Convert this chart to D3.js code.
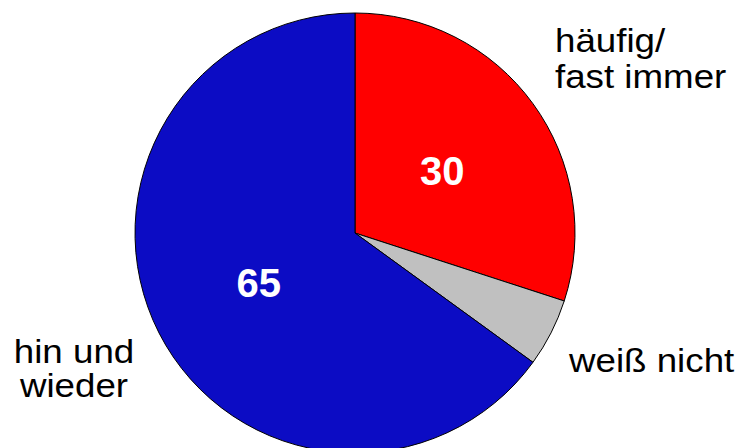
<!DOCTYPE html>
<html>
<head>
<meta charset="utf-8">
<script src="https://cdn.jsdelivr.net/npm/d3@7"></script>
<style>
  body { margin: 0; background: #fff; }
  text { font-family: "Liberation Sans", Arial, sans-serif; }
</style>
</head>
<body>
<svg id="chart"></svg>
<script>
// data
const categories = ["häufig/ fast immer", "weiß nicht", "hin und wieder"];
const values = [30, 5, 65];
const colors = ["#ff0000", "#c0c0c0", "#0c0cc4"];
const showValue = [true, false, true];

const width = 743;
const height = 448;
const cx = 355, cy = 233, radius = 220;

const svg = d3.select("#chart").attr("width", width).attr("height", height);
const g = svg.append("g").attr("transform", `translate(${cx},${cy})`);

const slices = categories.map((c, i) => ({ name: c, value: values[i], color: colors[i], show: showValue[i] }));

const pie = d3.pie().value((d) => d.value).sort(null);
const arc = d3.arc().innerRadius(0).outerRadius(radius);
const arcs = pie(slices);

g.selectAll("path")
  .data(arcs)
  .join("path")
  .attr("d", arc)
  .attr("fill", (d) => d.data.color)
  .attr("stroke", "#000")
  .attr("stroke-width", 1);

// value labels inside the slices
const labelArc = d3.arc().innerRadius(108).outerRadius(108);
g.selectAll(".val")
  .data(arcs.filter((d) => d.data.show))
  .join("text")
  .attr("class", "val")
  .attr("x", (d) => labelArc.centroid(d)[0])
  .attr("y", (d) => labelArc.centroid(d)[1] + 15)
  .attr("text-anchor", "middle")
  .attr("fill", "#fff")
  .attr("font-weight", "bold")
  .attr("font-size", 40)
  .text((d) => d.data.value);

// outside category labels (positions tuned by eye), text a bit wider than normal
const outside = [
  { lines: ["häufig/", "fast immer"], x: 555, y: 52, anchor: "start", gap: 36 },
  { lines: ["weiß nicht"], x: 569, y: 372, anchor: "start", gap: 0 },
  { lines: ["hin und", "wieder"], x: 74, y: 363, anchor: "middle", gap: 34 },
];
outside.forEach((o) => {
  const t = svg.append("text")
    .attr("transform", `translate(${o.x},${o.y}) scale(1.08,1)`)
    .attr("text-anchor", o.anchor)
    .attr("font-size", 34)
    .attr("fill", "#000");
  o.lines.forEach((l, i) => {
    t.append("tspan").attr("x", 0).attr("dy", i === 0 ? 0 : o.gap).text(l);
  });
});
</script>
</body>
</html>
